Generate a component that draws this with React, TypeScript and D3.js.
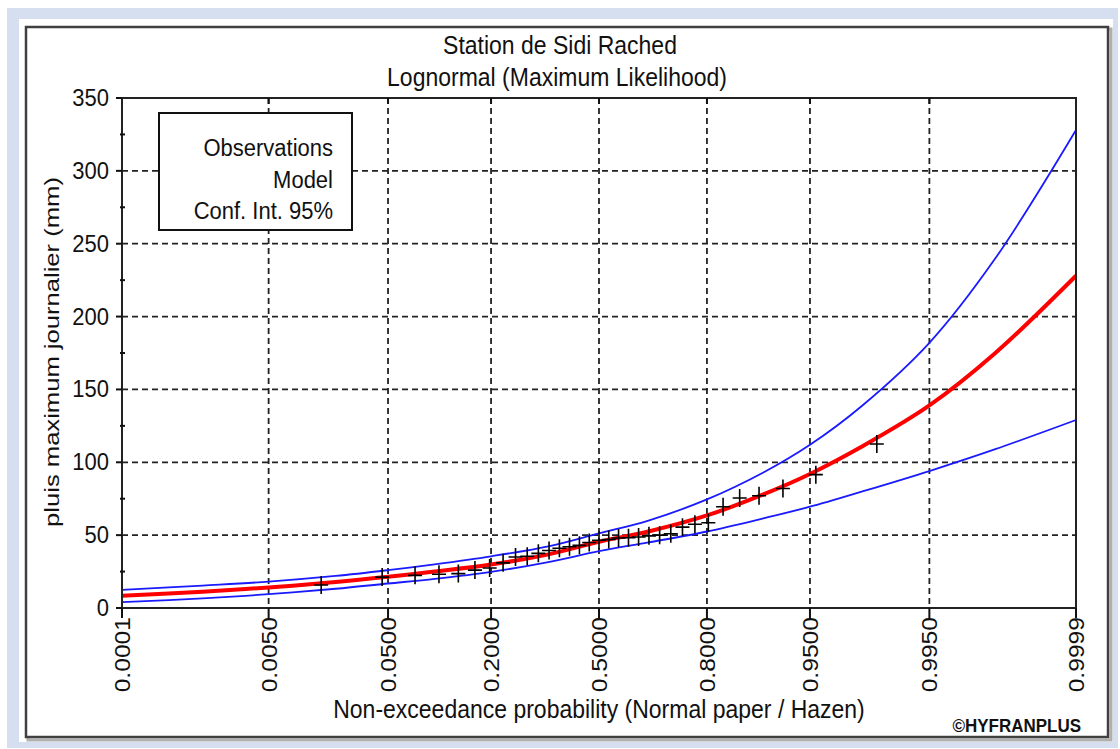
import React, { useEffect, useRef } from 'react';
import * as d3 from 'd3';

// axis ticks (normal probability paper)
const tickProbs = [0.0001, 0.005, 0.05, 0.2, 0.5, 0.8, 0.95, 0.995, 0.9999];
const tickLabels = ['0.0001', '0.0050', '0.0500', '0.2000', '0.5000', '0.8000', '0.9500', '0.9950', '0.9999'];
const yTicks = [0, 50, 100, 150, 200, 250, 300, 350];
const yMinor = [25, 75, 125, 175, 225, 275, 325];

// observed annual maxima, sorted (mm)
const obsValues = [
  15.8, 21.2, 22.4, 23.2, 23.6, 26.0, 27.5, 31.0, 35.0, 35.5, 37.5,
  39.5, 41.0, 42.0, 43.0, 45.0, 46.5, 47.0, 48.0, 48.2, 48.7, 49.5,
  50.0, 51.0, 55.5, 57.5, 58.5, 69.5, 75.5, 77.0, 82.0, 91.5, 112.5,
];

// fitted model and 95% confidence band, read at these probabilities
const curveProbs = [0.0001, 0.001, 0.005, 0.02, 0.05, 0.1, 0.2, 0.35, 0.5, 0.65, 0.8, 0.9, 0.95, 0.98, 0.995, 0.999, 0.9999];
const modelValues = [8.4, 11.2, 14.1, 17.8, 21.4, 25.0, 29.8, 37.0, 45.5, 52.5, 63.5, 78.0, 92.0, 111, 139, 175, 228];
const upperValues = [12.4, 15.4, 18.1, 22.0, 26.0, 30.0, 35.5, 42.5, 51.2, 60.0, 74.5, 93.0, 112, 139, 182, 240, 328];
const lowerValues = [4.0, 6.6, 9.5, 13.2, 16.8, 20.0, 24.8, 31.7, 39.0, 45.0, 52.5, 61.5, 69.5, 80.0, 94.0, 109, 129];

const FONT = '"Liberation Sans", Arial, sans-serif';
const SY = 1.12; // text is a bit taller than wide in the original

// inverse standard normal cdf (Acklam)
function probit(p: number): number {
  const a = [-39.69683028665376, 220.9460984245205, -275.9285104469687, 138.357751867269, -30.66479806614716, 2.506628277459239];
  const b = [-54.47609879822406, 161.5858368580409, -155.6989798598866, 66.80131188771972, -13.28068155288572];
  const c = [-0.007784894002430293, -0.3223964580411365, -2.400758277161838, -2.549732539343734, 4.374664141464968, 2.938163982698783];
  const d = [0.007784695709041462, 0.3224671290700398, 2.445134137142996, 3.754408661907416];
  const pLow = 0.02425;
  if (p < pLow) {
    const q = Math.sqrt(-2 * Math.log(p));
    return (((((c[0] * q + c[1]) * q + c[2]) * q + c[3]) * q + c[4]) * q + c[5]) /
      ((((d[0] * q + d[1]) * q + d[2]) * q + d[3]) * q + 1);
  }
  if (p <= 1 - pLow) {
    const q = p - 0.5;
    const r = q * q;
    return (((((a[0] * r + a[1]) * r + a[2]) * r + a[3]) * r + a[4]) * r + a[5]) * q /
      (((((b[0] * r + b[1]) * r + b[2]) * r + b[3]) * r + b[4]) * r + 1);
  }
  const q = Math.sqrt(-2 * Math.log(1 - p));
  return -(((((c[0] * q + c[1]) * q + c[2]) * q + c[3]) * q + c[4]) * q + c[5]) /
    ((((d[0] * q + d[1]) * q + d[2]) * q + d[3]) * q + 1);
}

const App = () => {
  const ref = useRef<SVGSVGElement>(null);

  useEffect(() => {
    const width = 1120;
    const height = 749;
    const plot = { left: 122, right: 1076, top: 98, bottom: 608 };

    const svg = d3.select(ref.current);
    svg.selectAll('*').remove();

    // page frame
    svg.append('rect').attr('x', 7).attr('y', 8).attr('width', 1111).attr('height', 740).attr('fill', '#d5dff0');
    svg.append('rect').attr('x', 19).attr('y', 19).attr('width', 1094).attr('height', 723).attr('fill', '#ffffff');
    svg.append('rect').attr('x', 28).attr('y', 29).attr('width', 1083).attr('height', 711)
      .attr('fill', 'none').attr('stroke', '#b0b0b0').attr('stroke-width', 3);
    svg.append('rect').attr('x', 26).attr('y', 27).attr('width', 1082).attr('height', 710)
      .attr('fill', '#ffffff').attr('stroke', '#404040').attr('stroke-width', 2.5);

    const x = d3.scaleLinear()
      .domain([probit(tickProbs[0]), probit(tickProbs[tickProbs.length - 1])])
      .range([plot.left, plot.right]);
    const y = d3.scaleLinear().domain([0, 350]).range([plot.bottom, plot.top]);

    const text = (tx: number, ty: number, str: string, size: number, anchor: string, rotate = false, weight = 'normal') =>
      svg.append('text')
        .attr('transform', `translate(${tx},${ty}) scale(1,${SY})${rotate ? ' rotate(-90)' : ''}`)
        .attr('font-family', FONT)
        .attr('font-size', size)
        .attr('font-weight', weight)
        .attr('text-anchor', anchor)
        .attr('fill', '#111')
        .text(str);

    // titles
    text(560, 54, 'Station de Sidi Rached', 23, 'middle');
    text(557, 86, 'Lognormal (Maximum Likelihood)', 23, 'middle');

    // grid
    const grid = svg.append('g').attr('stroke', '#222').attr('stroke-width', 1.8).attr('stroke-dasharray', '6,4');
    grid.selectAll('.vg').data(tickProbs.slice(1, -1)).enter().append('line')
      .attr('x1', d => x(probit(d))).attr('x2', d => x(probit(d)))
      .attr('y1', plot.top).attr('y2', plot.bottom);
    grid.selectAll('.hg').data(yTicks.slice(1, -1)).enter().append('line')
      .attr('x1', plot.left).attr('x2', plot.right)
      .attr('y1', d => y(d)).attr('y2', d => y(d));

    // legend box (covers grid)
    svg.append('rect').attr('x', 159).attr('y', 113).attr('width', 193).attr('height', 117)
      .attr('fill', '#fff').attr('stroke', '#111').attr('stroke-width', 2);
    text(333, 156, 'Observations', 22, 'end');
    text(333, 188, 'Model', 22, 'end');
    text(333, 219, 'Conf. Int. 95%', 22, 'end');

    // curves
    const line = (vals: number[]) => d3.line<number>()
      .x((_, i) => x(probit(curveProbs[i])))
      .y(v => y(v))
      .curve(d3.curveCatmullRom.alpha(0.5))(vals);

    svg.append('path').attr('d', line(upperValues)).attr('fill', 'none').attr('stroke', '#1a1aff').attr('stroke-width', 1.8);
    svg.append('path').attr('d', line(lowerValues)).attr('fill', 'none').attr('stroke', '#1a1aff').attr('stroke-width', 1.8);
    svg.append('path').attr('d', line(modelValues)).attr('fill', 'none').attr('stroke', '#ff0000').attr('stroke-width', 4);

    // observations (Hazen plotting positions)
    const n = obsValues.length;
    svg.append('g').selectAll('path').data(obsValues).enter().append('path')
      .attr('d', (v, i) => {
        const cx = x(probit((i + 0.5) / n));
        const cy = y(v);
        return `M${cx - 7},${cy}H${cx + 7}M${cx},${cy - 9}V${cy + 9}`;
      })
      .attr('fill', 'none').attr('stroke', '#000').attr('stroke-width', 1.6);

    // axes frame
    svg.append('rect').attr('x', plot.left).attr('y', plot.top)
      .attr('width', plot.right - plot.left).attr('height', plot.bottom - plot.top)
      .attr('fill', 'none').attr('stroke', '#222').attr('stroke-width', 2);

    const ticks = svg.append('g').attr('stroke', '#111').attr('stroke-width', 2);
    ticks.selectAll('.yt').data(yTicks).enter().append('line')
      .attr('x1', plot.left - 6).attr('x2', plot.left).attr('y1', d => y(d)).attr('y2', d => y(d));
    ticks.selectAll('.ym').data(yMinor).enter().append('line')
      .attr('x1', plot.left - 2).attr('x2', plot.left + 3).attr('y1', d => y(d)).attr('y2', d => y(d));
    ticks.selectAll('.xb').data(tickProbs).enter().append('line')
      .attr('x1', d => x(probit(d))).attr('x2', d => x(probit(d)))
      .attr('y1', plot.bottom).attr('y2', plot.bottom + 10);
    ticks.selectAll('.xt').data(tickProbs.slice(1, -1)).enter().append('line')
      .attr('x1', d => x(probit(d))).attr('x2', d => x(probit(d)))
      .attr('y1', plot.top).attr('y2', plot.top + 6);

    yTicks.forEach(v => text(109, y(v) + 8, String(v), 22, 'end'));
    tickProbs.forEach((p, i) => text(x(probit(p)) + 8, 617, tickLabels[i], 22, 'end', true));

    // axis titles
    text(599, 718, 'Non-exceedance probability (Normal paper / Hazen)', 23, 'middle');
    svg.append('text')
      .attr('transform', `translate(59,352) scale(1,1.28) rotate(-90)`)
      .attr('font-family', FONT).attr('font-size', 20).attr('text-anchor', 'middle').attr('fill', '#111')
      .text('pluis maximum journalier (mm)');

    text(1081, 732, '\u00A9HYFRANPLUS', 17, 'end', false, 'bold');

    svg.attr('width', width).attr('height', height);
  }, []);

  return (
    <svg ref={ref} width={1120} height={749}
      style={{ position: 'absolute', left: 0, top: 0, background: '#fff' }} />
  );
};

export default App;
